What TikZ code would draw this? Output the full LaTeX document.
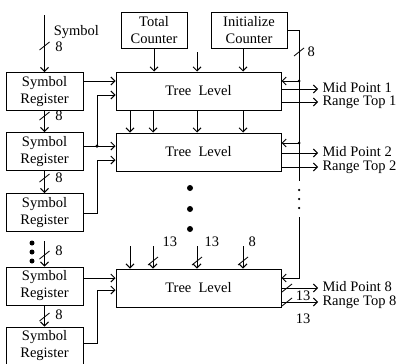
\documentclass[tikz,border=0pt]{standalone}
\usepackage{fontspec}
\setmainfont{Liberation Serif}
\usetikzlibrary{arrows.meta}

\begin{document}
\begin{tikzpicture}[x=1pt, y=-1pt, line width=1pt,
		>={Straight Barb[length=4pt,width=8pt]},
		font=\fontsize{14.5}{17}\selectfont,
		reg/.style={draw, minimum width=77pt, minimum height=38pt, align=center, inner sep=0pt},
		level/.style={draw, minimum width=165pt, minimum height=38pt, inner sep=0pt},
		counter/.style={draw, minimum height=36pt, align=center, inner sep=0pt},
		num/.style={anchor=west, inner sep=1pt},
		outlbl/.style={anchor=west, inner sep=0pt, text height=9.5pt, text depth=2pt, xshift=4pt},
		pics/bus/.style={code={\draw[line width=0.8pt] (-5,4) -- (5,-4);}},
		dot/.style={circle, fill, inner sep=0pt, minimum size=#1}]
	\useasboundingbox (0,0) rectangle (397,364);

	\node[reg] (sr1) at (44.5,91.5) {Symbol\\Register};
	\node[reg] (sr2) at (44.5,151.5) {Symbol\\Register};
	\node[reg] (sr3) at (44.5,212.5) {Symbol\\Register};
	\node[reg] (sr4) at (44.5,286) {Symbol\\Register};
	\node[reg] (sr5) at (44.5,346) {Symbol\\Register};
	\node[level] (tl1) at (198.5,91) {Tree\ \ Level};
	\node[level] (tl2) at (198.5,152) {Tree\ \ Level};
	\node[level] (tl3) at (198.5,288) {Tree\ \ Level};
	\node[counter, minimum width=66pt] (total) at (154,30) {Total\\Counter};
	\node[counter, minimum width=76pt] (init) at (249,30) {Initialize\\Counter};

	% symbol registers
	\coordinate (symin) at (44.5,15);
	\draw[->] (symin) -- (sr1.north);
	\node[anchor=west] (symlbl) at (50,32) {Symbol};
	\pic at (44.5,46) {bus};
	\node[num] (b1) at (54,47) {8};
	\draw[->] (sr1) -- (sr2);
	\pic at (44.5,116) {bus};
	\node[num] (b2) at (54,116) {8};
	\draw[->] (sr2) -- (sr3);
	\pic at (44.5,178) {bus};
	\node[num] (b3) at (54,178) {8};
	\foreach \y in {243,252,261}
		\node[dot=5pt] at (32,\y) {};
	\coordinate (sr4in) at (44.5,241);
	\draw[->] (sr4in) -- (sr4.north);
	\pic at (44.5,255) {bus};
	\node[num] (b4) at (54,251) {8};
	\draw[->] (sr4) -- (sr5);
	\pic at (44.5,317) {bus};
	\node[num] (b5) at (54,315) {8};

	% registers to tree levels
	\draw[->] (sr1.east |- 0,81) -- (tl1.west |- 0,81);
	\coordinate (j2) at (97,146);
	\draw[->] (sr2.east |- j2) -- (tl2.west |- j2);
	\draw[->] (j2) |- (tl1.west |- 0,95);
	\node[dot=3.5pt] at (j2) {};
	\draw[->] (sr3.east |- 0,213) -| (97,160) -- (tl2.west |- 0,160);
	\draw[->] (sr4.east |- 0,278) -- (tl3.west |- 0,278);
	\draw[->] (sr5.east |- 0,343) -| (97,290) -- (tl3.west |- 0,290);

	% counters and level links
	\draw[->] (total.south) -- (total.south |- tl1.north);
	\coordinate (mid) at (197,52);
	\draw[->] (mid) -- (tl1.north -| mid);
	\draw[->] (init.south -| 243,0) -- (tl1.north -| 243,0);
	\foreach \x in {130,153,197,243}
		\draw[->] (tl1.south -| \x,0) -- (tl2.north -| \x,0);
	\foreach \y in {188,209,229}
		\node[dot=6pt] at (190,\y) {};
	\foreach \x in {130,153,197,243}
		\draw[->] (\x,246) -- (tl3.north -| \x,0);
	\pic at (153,261) {bus};
	\pic at (197,261) {bus};
	\pic at (243,261) {bus};
	\node[num] (b6) at (161,242) {13};
	\node[num] (b7) at (203,242) {13};
	\node[num] (b8) at (247,242) {8};

	% initialize bus
	\draw (init.east) -| (299,181);
	\draw[->] (299,217) |- (tl3.east |- 0,278);
	\pic at (299,52) {bus};
	\node[num] (b9) at (306,52) {8};
	\draw[->] (299,81) -- (tl1.east |- 0,81);
	\node[dot=3pt] at (299,81) {};
	\draw[->] (299,143) -- (tl2.east |- 0,143);
	\node[dot=3pt] at (299,143) {};
	\foreach \y in {190,199,208}
		\node[dot=2.5pt] at (299,\y) {};

	% outputs
	\draw[->] (tl1.east |- 0,89) -- (318,89) node[outlbl] (mp1) {Mid Point 1};
	\draw[->] (tl1.east |- 0,102) -- (318,102) node[outlbl] (rt1) {Range Top 1};
	\draw[->] (tl2.east |- 0,153) -- (318,153) node[outlbl] (mp2) {Mid Point 2};
	\draw[->] (tl2.east |- 0,167) -- (318,167) node[outlbl] (rt2) {Range Top 2};
	\draw[->] (tl3.east |- 0,288) -- (318,288) node[outlbl] (mp8) {Mid Point 8};
	\draw[->] (tl3.east |- 0,302) -- (318,302) node[outlbl] (rt8) {Range Top 8};
	\pic at (287,288) {bus};
	\pic at (287,302) {bus};
	\node (b10) at (303,296) {13};
	\node (b11) at (303,319) {13};
\end{tikzpicture}
\end{document}
